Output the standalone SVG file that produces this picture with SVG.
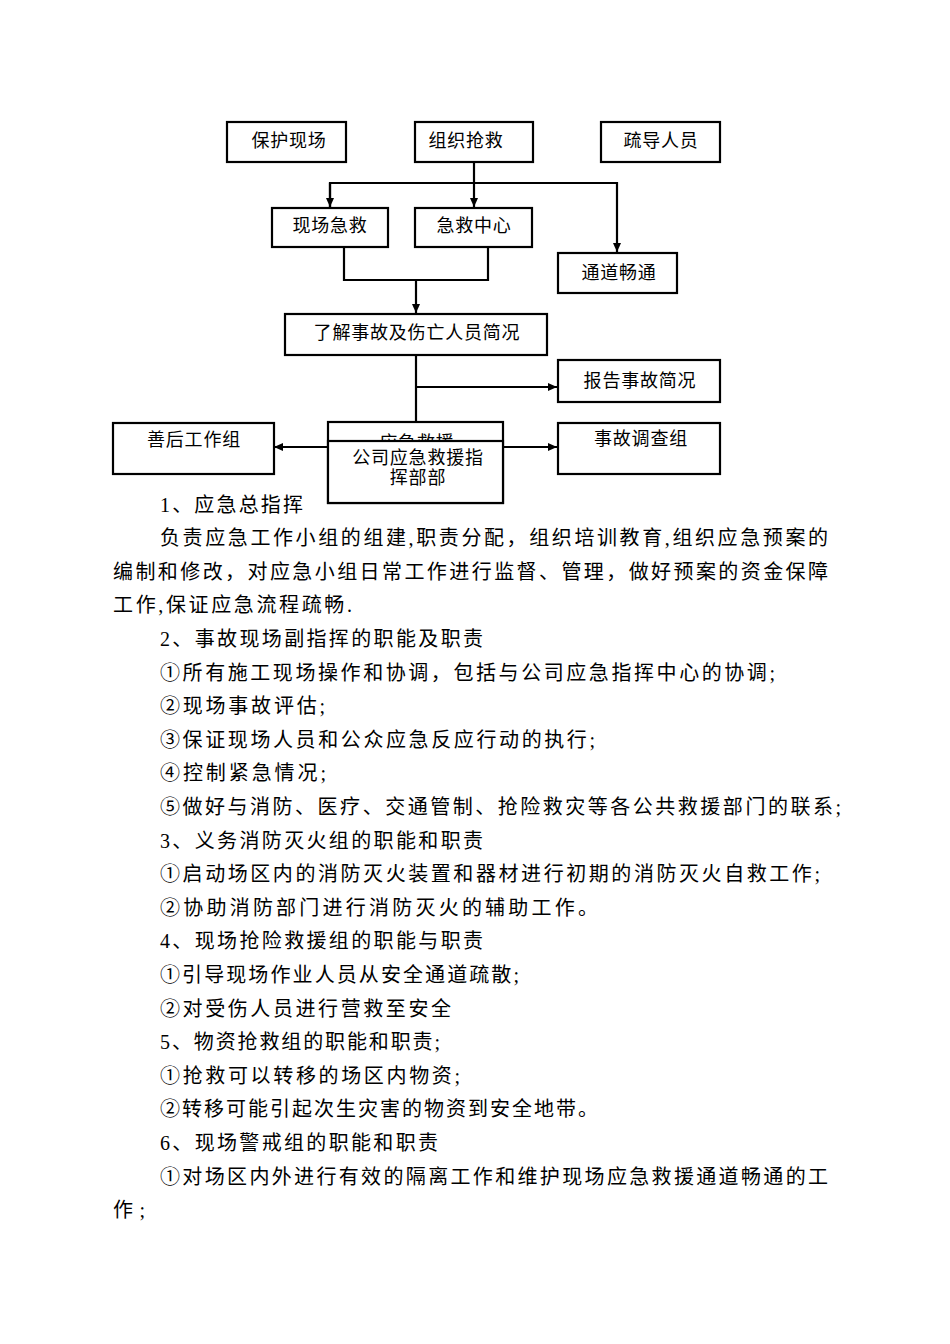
<svg xmlns="http://www.w3.org/2000/svg" width="950" height="1344" viewBox="0 0 950 1344">
<style>
.box{fill:#fff;stroke:#000;stroke-width:2.2}
.bt{font-family:"Liberation Serif","Noto Sans CJK SC",serif;font-size:18px;fill:#000;text-anchor:middle;letter-spacing:0.8px}
.ln{fill:none;stroke:#000;stroke-width:2.2}
.tx{font-family:"Liberation Serif","Noto Sans CJK SC",serif;font-size:20px;fill:#000}
</style>
<defs>
<marker id="ar" markerUnits="userSpaceOnUse" markerWidth="10" markerHeight="10" refX="9" refY="5" orient="auto">
<path d="M0,1 L9,5 L0,9 Z" fill="#000"/>
</marker>
</defs>
<rect width="950" height="1344" fill="#fff"/>

<g id="connectors">
<path class="ln" d="M474,162 V207" marker-end="url(#ar)"/>
<path class="ln" d="M330,207 V183 H617 V252" marker-end="url(#ar)"/>
<path class="ln" d="M330,183 V207" marker-end="url(#ar)"/>
<path class="ln" d="M344,247 V280 H488 V247"/>
<path class="ln" d="M416,280 V313" marker-end="url(#ar)"/>
<path class="ln" d="M416,355 V440" marker-end="url(#ar)"/>
<path class="ln" d="M416,387 H557" marker-end="url(#ar)"/>
<path class="ln" d="M328,447 H274" marker-end="url(#ar)"/>
<path class="ln" d="M503,447 H557" marker-end="url(#ar)"/>
</g>

<g id="n-baohu"><rect class="box" x="227" y="122" width="119" height="40"/><text class="bt" x="289" y="147">保护现场</text></g>
<g id="n-zuzhi"><rect class="box" x="415" y="122" width="118" height="40"/><text class="bt" x="466" y="147">组织抢救</text></g>
<g id="n-shudao"><rect class="box" x="601" y="122" width="119" height="40"/><text class="bt" x="661" y="147">疏导人员</text></g>
<g id="n-xianchang"><rect class="box" x="272" y="208" width="116" height="39"/><text class="bt" x="330" y="232">现场急救</text></g>
<g id="n-jijiu"><rect class="box" x="415" y="208" width="117" height="39"/><text class="bt" x="474" y="232">急救中心</text></g>
<g id="n-tongdao"><rect class="box" x="558" y="253" width="119" height="40"/><text class="bt" x="619" y="279">通道畅通</text></g>
<g id="n-liaojie"><rect class="box" x="285" y="314" width="262" height="41"/><text class="bt" x="417" y="339">了解事故及伤亡人员简况</text></g>
<g id="n-baogao"><rect class="box" x="558" y="360" width="162" height="42"/><text class="bt" x="640" y="387">报告事故简况</text></g>
<g id="n-shanhou"><rect class="box" x="113" y="423" width="161" height="51"/><text class="bt" x="194" y="446">善后工作组</text></g>
<g id="n-diaocha"><rect class="box" x="558" y="423" width="162" height="51"/><text class="bt" x="641" y="445">事故调查组</text></g>
<g id="n-yingji"><rect class="box" x="328" y="422" width="175" height="81"/><text class="bt" x="417" y="449">应急救援</text></g>
<g id="n-gongsi"><rect class="box" x="328" y="441" width="175" height="62"/><text class="bt" x="418" y="464">公司应急救援指</text><text class="bt" x="418" y="484">挥部部</text></g>

<g id="body">
<text class="tx" x="160" y="511.5" textLength="143" lengthAdjust="spacing">1、应急总指挥</text>
<text class="tx" x="160" y="545.1" textLength="668" lengthAdjust="spacing">负责应急工作小组的组建,职责分配，组织培训教育,组织应急预案的</text>
<text class="tx" x="113" y="578.7" textLength="715" lengthAdjust="spacing">编制和修改，对应急小组日常工作进行监督、管理，做好预案的资金保障</text>
<text class="tx" x="113" y="612.3" textLength="239" lengthAdjust="spacing">工作,保证应急流程疏畅.</text>
<text class="tx" x="160" y="645.9" textLength="323" lengthAdjust="spacing">2、事故现场副指挥的职能及职责</text>
<text class="tx" x="160" y="679.5" textLength="615" lengthAdjust="spacing">①所有施工现场操作和协调，包括与公司应急指挥中心的协调;</text>
<text class="tx" x="160" y="713.1" textLength="165" lengthAdjust="spacing">②现场事故评估;</text>
<text class="tx" x="160" y="746.7" textLength="435" lengthAdjust="spacing">③保证现场人员和公众应急反应行动的执行;</text>
<text class="tx" x="160" y="780.3" textLength="166" lengthAdjust="spacing">④控制紧急情况;</text>
<text class="tx" x="160" y="813.9" textLength="681" lengthAdjust="spacing">⑤做好与消防、医疗、交通管制、抢险救灾等各公共救援部门的联系;</text>
<text class="tx" x="160" y="847.5" textLength="323" lengthAdjust="spacing">3、义务消防灭火组的职能和职责</text>
<text class="tx" x="160" y="881.1" textLength="660" lengthAdjust="spacing">①启动场区内的消防灭火装置和器材进行初期的消防灭火自救工作;</text>
<text class="tx" x="160" y="914.7" textLength="438" lengthAdjust="spacing">②协助消防部门进行消防灭火的辅助工作。</text>
<text class="tx" x="160" y="948.3" textLength="323" lengthAdjust="spacing">4、现场抢险救援组的职能与职责</text>
<text class="tx" x="160" y="981.9" textLength="359" lengthAdjust="spacing">①引导现场作业人员从安全通道疏散;</text>
<text class="tx" x="160" y="1015.5" textLength="291" lengthAdjust="spacing">②对受伤人员进行营救至安全</text>
<text class="tx" x="160" y="1049.1" textLength="280" lengthAdjust="spacing">5、物资抢救组的职能和职责;</text>
<text class="tx" x="160" y="1082.7" textLength="300" lengthAdjust="spacing">①抢救可以转移的场区内物资;</text>
<text class="tx" x="160" y="1116.3" textLength="438" lengthAdjust="spacing">②转移可能引起次生灾害的物资到安全地带。</text>
<text class="tx" x="160" y="1149.9" textLength="278" lengthAdjust="spacing">6、现场警戒组的职能和职责</text>
<text class="tx" x="160" y="1183.5" textLength="668" lengthAdjust="spacing">①对场区内外进行有效的隔离工作和维护现场应急救援通道畅通的工</text>
<text class="tx" x="113" y="1217.1" textLength="32" lengthAdjust="spacing">作;</text>
</g>
</svg>
